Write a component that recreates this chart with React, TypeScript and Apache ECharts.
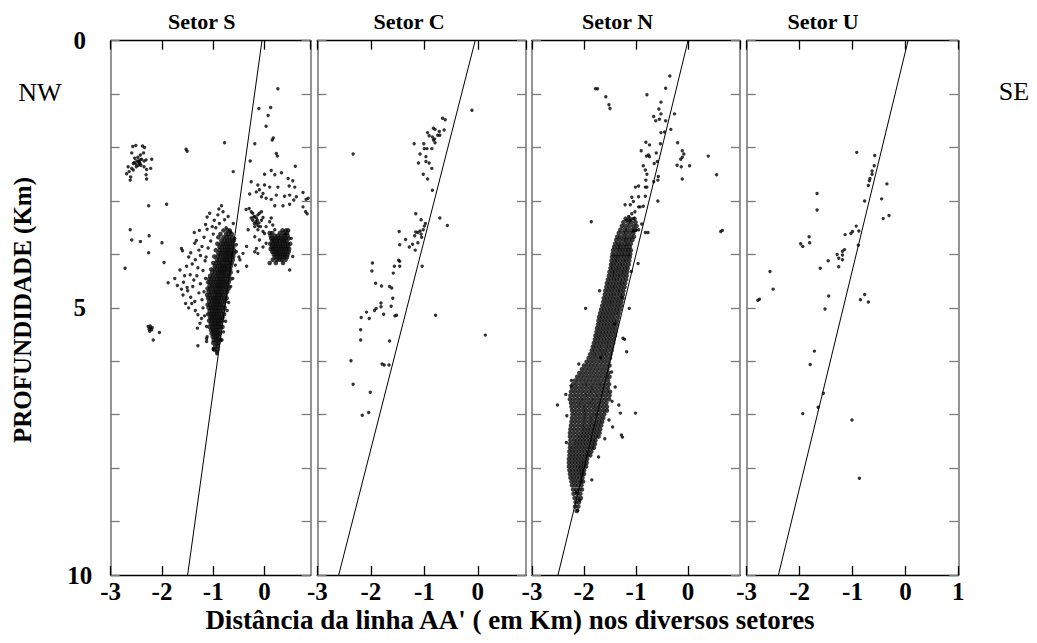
import React, { useEffect, useRef } from "react";
import * as echarts from "echarts";

// ---------- texts ----------
const panelTitles = ["Setor S", "Setor C", "Setor N", "Setor U"];
const xAxisTitle = "Distância da linha AA' ( em Km) nos diversos setores";
const yAxisTitle = "PROFUNDIDADE (Km)";
const leftSide = "NW";
const rightSide = "SE";

// ---------- axes ----------
const xMin = -3;
const xMaxes = [0.9, 0.9, 1, 1];
const depthMin = 0;
const depthMax = 10;
const depthLabels = [0, 5, 10];

// ---------- trend lines [distance, depth] ----------
const lineS = [[-0.05, 0], [-1.5, 10]];
const lineC = [[-0.05, 0], [-2.6, 10]];
const lineN = [[0.0, 0], [-2.5, 10]];
const lineU = [[0.05, 0], [-2.4, 10]];

// ---------- Setor S : scattered events [distance, depth] ----------
const sectorS_sparse = [
  // north-west cluster
  [-2.57, 1.98], [-2.51, 1.96], [-2.38, 1.97], [-2.34, 2.0], [-2.59, 2.1], [-2.36, 2.1], [-2.42, 2.14],
  [-2.53, 2.2], [-2.49, 2.25], [-2.46, 2.26], [-2.43, 2.23], [-2.4, 2.22], [-2.35, 2.25], [-2.31, 2.23],
  [-2.2, 2.22], [-2.54, 2.28], [-2.51, 2.31], [-2.46, 2.33], [-2.43, 2.3], [-2.66, 2.36], [-2.59, 2.39],
  [-2.56, 2.42], [-2.64, 2.45], [-2.69, 2.49], [-2.61, 2.55], [-2.62, 2.61], [-2.35, 2.36], [-2.3, 2.41],
  [-2.22, 2.39], [-2.31, 2.51], [-2.3, 2.59], [-2.56, 2.3], [-2.47, 2.18], [-2.44, 2.28], [-2.41, 2.33], [-2.5, 2.36],
  // isolated
  [-1.53, 2.03], [-1.51, 2.07], [-0.78, 1.91], [-0.61, 2.45], [-2.26, 3.09], [-1.91, 3.06], [-2.62, 3.54],
  [-2.59, 3.73], [-2.42, 3.76], [-2.25, 3.65], [-2.26, 3.97], [-2.0, 3.78], [-2.72, 4.26], [-1.96, 4.15], [-1.88, 4.53],
  // south-west small cluster
  [-2.27, 5.35], [-2.23, 5.34], [-2.19, 5.37], [-2.25, 5.4], [-2.2, 5.41], [-2.24, 5.44], [-2.22, 5.38], [-2.17, 5.6], [-2.05, 5.46],
  // shallow eastern events
  [0.26, 0.9], [-0.11, 1.27], [0.12, 1.25], [0.07, 1.4], [0.03, 1.6], [0.17, 1.82], [0.15, 1.86], [-0.19, 1.93],
  [0.23, 2.11], [0.25, 2.16], [-0.28, 2.25], [0.6, 2.35],
  // halo of the main cluster
  [-1.62, 3.89], [-1.6, 3.93], [-1.44, 3.97], [-1.36, 3.79], [-1.33, 3.74], [-1.37, 3.59], [-1.15, 3.44], [-1.12, 3.53],
  [-1.07, 3.23], [-0.91, 3.26], [-0.84, 3.09], [-0.81, 3.2], [-0.71, 3.29], [-0.61, 3.42], [-1.75, 4.45], [-1.65, 4.29],
  [-1.59, 4.76], [-1.51, 4.62], [-1.54, 4.92], [-1.42, 4.92], [-1.36, 4.88], [-1.3, 5.13], [-1.31, 5.38], [-1.26, 5.29],
  [-1.23, 5.2], [-1.13, 5.35], [-1.12, 5.54], [-1.13, 5.63], [-1.0, 5.76], [-0.94, 5.82], [-0.48, 4.1], [-0.35, 4.22],
  [-0.35, 3.85], [-0.42, 3.98], [-0.52, 4.32], [-0.55, 3.95], [-1.48, 4.05], [-1.41, 4.18], [-1.35, 4.1], [-1.28, 3.92],
  [-1.22, 3.85], [-1.18, 3.68], [-1.25, 4.02], [-1.3, 4.25], [-1.45, 4.38], [-1.38, 4.48], [-1.32, 4.4], [-1.25, 4.55],
  [-1.2, 4.3], [-1.16, 4.12], [-1.1, 3.88], [-1.05, 3.75], [-1.0, 3.62], [-0.95, 3.5], [-0.88, 3.42], [-0.98, 3.36],
  [-1.02, 3.48], [-1.5, 4.68], [-1.44, 4.8], [-1.4, 4.6], [-1.28, 4.72], [-1.22, 4.85], [-1.18, 4.7], [-1.56, 4.4],
  [-1.7, 4.58], [-1.62, 4.65], [-1.48, 5.0], [-1.35, 5.05], [-1.2, 5.0], [-1.17, 5.15], [-1.15, 4.45], [-1.14, 4.05],
  [-0.78, 3.35], [-0.75, 3.5], [-0.66, 3.58], [-0.58, 3.7], [-0.55, 3.82], [-0.5, 4.05], [-0.57, 4.2], [-0.62, 4.45],
  [-0.66, 4.6], [-0.7, 4.9], [-0.73, 5.05], [-0.76, 5.25], [-0.8, 5.45], [-0.83, 5.6], [-1.3, 5.71], [-1.13, 5.58],
  [-1.0, 5.78], [-0.93, 5.86], [-0.89, 3.15], [-1.12, 3.3], [-1.27, 3.55], [-1.52, 4.22], [-1.58, 4.52],
  // eastern group
  [0.0, 2.5], [0.13, 2.43], [0.2, 2.51], [0.33, 2.47], [0.46, 2.58], [0.55, 2.62], [-0.26, 2.64], [-0.13, 2.7],
  [0.0, 2.7], [0.1, 2.74], [0.26, 2.74], [0.48, 2.72], [0.59, 2.74], [0.75, 2.84], [0.81, 2.97], [0.85, 2.95],
  [0.75, 3.11], [0.8, 3.2], [0.83, 3.24], [0.62, 2.92], [0.49, 2.89], [0.39, 2.91], [0.23, 2.89], [0.13, 2.97],
  [0.03, 2.95], [-0.06, 2.92], [-0.16, 2.83], [-0.29, 2.87], [-0.1, 2.79], [-0.03, 2.86], [0.2, 3.09], [0.36, 3.09],
  [0.49, 3.06], [0.57, 2.98], [-0.36, 3.16], [-0.3, 3.14], [-0.26, 3.2], [-0.23, 3.23], [-0.19, 3.29], [-0.16, 3.32],
  [-0.13, 3.26], [-0.1, 3.23], [-0.06, 3.2], [-0.17, 3.39], [-0.15, 3.43], [-0.11, 3.41], [-0.23, 3.36], [-0.26, 3.32],
  [-0.06, 3.36], [-0.03, 3.31], [-0.08, 3.48], [-0.19, 3.48], [-0.13, 3.54], [-0.03, 3.57], [0.0, 3.61], [0.03, 3.48],
  [0.1, 3.39], [0.13, 3.32], [0.16, 3.45], [0.2, 3.54], [-0.32, 3.54], [-0.19, 3.67], [-0.1, 3.73], [-0.16, 3.89],
  [-0.19, 3.95], [-0.13, 3.98], [-0.03, 3.86], [0.03, 3.79], [0.49, 4.29], [0.55, 4.04], [0.52, 3.7], [0.41, 3.62],
  [-0.21, 3.3], [-0.14, 3.36], [-0.2, 3.42], [-0.12, 3.47],
];

// Setor S : dense main cluster, rows of [depth, distances...]
const sectorS_coreRows = [
  [3.55, -0.8, -0.72, -0.68],
  [3.62, -0.86, -0.75, -0.7, -0.64],
  [3.68, -0.9, -0.8, -0.74, -0.69, -0.63],
  [3.74, -0.84, -0.78, -0.73, -0.68, -0.64, -0.6],
  [3.8, -0.92, -0.85, -0.8, -0.76, -0.71, -0.67, -0.62],
  [3.86, -0.88, -0.83, -0.78, -0.74, -0.7, -0.66, -0.61],
  [3.92, -0.95, -0.87, -0.82, -0.77, -0.73, -0.69, -0.65, -0.6],
  [3.98, -0.9, -0.85, -0.8, -0.76, -0.72, -0.68, -0.64, -0.6],
  [4.04, -0.98, -0.91, -0.86, -0.81, -0.77, -0.73, -0.69, -0.65, -0.61],
  [4.1, -0.93, -0.88, -0.83, -0.79, -0.75, -0.71, -0.67, -0.62],
  [4.16, -1.0, -0.94, -0.89, -0.85, -0.8, -0.76, -0.72, -0.68, -0.64],
  [4.22, -0.97, -0.92, -0.87, -0.83, -0.79, -0.75, -0.71, -0.66],
  [4.28, -1.04, -0.98, -0.93, -0.88, -0.84, -0.8, -0.76, -0.72, -0.67],
  [4.34, -1.02, -0.96, -0.91, -0.87, -0.83, -0.79, -0.75, -0.7, -0.66],
  [4.4, -1.06, -1.0, -0.95, -0.9, -0.86, -0.82, -0.78, -0.74, -0.69],
  [4.46, -1.08, -1.03, -0.98, -0.93, -0.89, -0.85, -0.81, -0.77, -0.72, -0.67],
  [4.52, -1.1, -1.05, -1.0, -0.95, -0.91, -0.87, -0.83, -0.79, -0.75, -0.7],
  [4.58, -1.07, -1.02, -0.97, -0.93, -0.89, -0.85, -0.81, -0.77, -0.72],
  [4.64, -1.11, -1.06, -1.01, -0.96, -0.92, -0.88, -0.84, -0.8, -0.75, -0.7],
  [4.7, -1.09, -1.04, -0.99, -0.95, -0.91, -0.87, -0.83, -0.78, -0.73],
  [4.76, -1.12, -1.07, -1.02, -0.97, -0.93, -0.89, -0.85, -0.81, -0.76],
  [4.82, -1.1, -1.05, -1.0, -0.96, -0.92, -0.88, -0.84, -0.79, -0.74],
  [4.88, -1.08, -1.03, -0.99, -0.95, -0.91, -0.87, -0.82, -0.77],
  [4.94, -1.11, -1.06, -1.01, -0.97, -0.93, -0.89, -0.85, -0.8],
  [5.0, -1.09, -1.04, -1.0, -0.96, -0.92, -0.88, -0.83, -0.78],
  [5.06, -1.07, -1.02, -0.98, -0.94, -0.9, -0.86, -0.81],
  [5.12, -1.1, -1.05, -1.01, -0.97, -0.93, -0.89, -0.84, -0.79],
  [5.18, -1.06, -1.02, -0.98, -0.94, -0.9, -0.86, -0.82],
  [5.24, -1.08, -1.03, -0.99, -0.95, -0.91, -0.87, -0.83],
  [5.3, -1.05, -1.01, -0.97, -0.93, -0.89, -0.85],
  [5.36, -1.07, -1.02, -0.98, -0.94, -0.9, -0.86, -0.82],
  [5.42, -1.04, -1.0, -0.96, -0.92, -0.88],
  [5.48, -1.03, -0.99, -0.95, -0.91, -0.87],
  [5.54, -1.01, -0.97, -0.93, -0.89],
  [5.6, -0.99, -0.95, -0.91, -0.86],
  [5.66, -1.0, -0.94, -0.9],
  [5.72, -0.96, -0.91],
  [5.78, -0.98, -0.92],
];

// Setor S : dense eastern cluster rows
const sectorS_eastRows = [
  [3.55, 0.35, 0.42, 0.46],
  [3.6, 0.1, 0.15, 0.3, 0.38, 0.44],
  [3.65, 0.12, 0.2, 0.26, 0.33, 0.39, 0.45],
  [3.7, 0.13, 0.17, 0.22, 0.27, 0.32, 0.37, 0.41, 0.47],
  [3.75, 0.15, 0.19, 0.24, 0.29, 0.34, 0.38, 0.43],
  [3.8, 0.11, 0.16, 0.21, 0.25, 0.3, 0.35, 0.4, 0.45, 0.5],
  [3.85, 0.14, 0.18, 0.23, 0.27, 0.32, 0.36, 0.41, 0.46],
  [3.9, 0.12, 0.17, 0.21, 0.26, 0.3, 0.34, 0.39, 0.43, 0.48],
  [3.95, 0.15, 0.2, 0.24, 0.28, 0.33, 0.37, 0.42, 0.47],
  [4.0, 0.18, 0.23, 0.27, 0.31, 0.36, 0.4, 0.45],
  [4.05, 0.2, 0.25, 0.3, 0.35, 0.39, 0.44],
  [4.1, 0.16, 0.24, 0.29, 0.34, 0.41],
  [4.16, 0.1, 0.22, 0.36],
];

// ---------- Setor C ----------
const sectorC_points = [
  [-0.11, 1.3], [-0.66, 1.45], [-0.61, 1.48], [-0.83, 1.64], [-0.8, 1.66], [-0.94, 1.72], [-0.72, 1.7], [-0.63, 1.67],
  [-0.91, 1.78], [-0.85, 1.8], [-0.81, 1.84], [-0.83, 1.86], [-0.75, 1.77], [-0.71, 1.77], [-0.8, 1.91],
  [-1.19, 1.93], [-1.01, 1.93], [-1.0, 2.02], [-0.95, 2.02], [-0.86, 2.02], [-2.33, 2.12], [-1.08, 2.12],
  [-0.97, 2.17], [-1.11, 2.29], [-0.97, 2.26], [-0.91, 2.29], [-0.86, 2.39], [-1.02, 2.5], [-0.94, 2.59], [-0.85, 2.8],
  [-1.16, 3.24], [-1.06, 3.35], [-0.71, 3.32], [-0.57, 3.46], [-0.98, 3.42], [-1.0, 3.47], [-1.02, 3.54], [-1.08, 3.56],
  [-1.16, 3.58], [-1.12, 3.59], [-1.18, 3.65], [-1.06, 3.62], [-1.05, 3.68], [-1.47, 3.57], [-1.35, 3.72], [-1.46, 3.82],
  [-1.28, 3.86], [-1.22, 3.81], [-1.12, 3.78], [-1.17, 3.92], [-1.97, 4.16], [-1.98, 4.31], [-1.48, 4.11], [-1.46, 4.13],
  [-1.56, 4.22], [-1.46, 4.22], [-1.58, 4.35], [-1.04, 4.22], [-1.91, 4.54], [-1.8, 4.59], [-1.65, 4.6], [-1.61, 4.63],
  [-1.59, 4.82], [-1.81, 4.91], [-1.81, 4.98], [-1.9, 5.01], [-1.93, 5.05], [-2.08, 5.08], [-2.18, 5.18], [-2.03, 5.2],
  [-1.76, 5.12], [-1.62, 4.97], [-1.55, 5.15], [-1.52, 5.14], [-0.79, 5.14], [0.14, 5.51], [-2.19, 5.41], [-2.19, 5.6],
  [-1.65, 5.62], [-2.37, 5.99], [-1.79, 6.05], [-1.75, 6.07], [-1.66, 6.07], [-2.33, 6.43], [-2.01, 6.58], [-2.04, 6.96],
  [-2.16, 7.01],
];

// ---------- Setor N ----------
const sectorN_sparse = [
  [-1.78, 0.9], [-1.74, 0.9], [-1.58, 1.05], [-1.52, 1.2], [-1.5, 1.27], [-0.35, 0.66], [-0.43, 0.89], [-0.79, 1.01],
  [-0.52, 1.15], [-0.56, 1.28], [-0.52, 1.37], [-0.66, 1.42], [-0.62, 1.5], [-0.55, 1.47], [-0.26, 1.37], [-0.43, 1.5],
  [-0.33, 1.66], [-0.52, 1.72], [-0.45, 1.71], [-0.81, 1.9], [-0.74, 1.95], [-0.53, 1.93], [-0.2, 1.91], [-0.9, 2.06],
  [-0.61, 2.1], [-0.8, 2.16], [-0.76, 2.14], [-0.74, 2.17], [-0.11, 2.06], [-0.08, 2.12], [-0.11, 2.18], [-0.14, 2.22],
  [0.39, 2.16], [-0.59, 2.26], [-0.65, 2.3], [-0.21, 2.33], [-0.13, 2.36], [0.03, 2.34], [0.55, 2.51], [-0.11, 2.59],
  [-0.86, 2.34], [-0.82, 2.42], [-0.79, 2.5], [-0.81, 2.61], [-0.57, 2.54], [-0.58, 2.61], [-0.66, 2.64], [-0.95, 2.72],
  [-1.01, 2.74], [-0.82, 2.74], [-0.79, 2.74], [-0.82, 2.91], [-0.95, 2.92], [-1.08, 2.93], [-0.58, 3.0], [-1.05, 3.01],
  [-1.11, 3.07], [-1.21, 3.07], [-0.95, 3.11], [-0.92, 3.11], [-0.86, 3.1], [-1.86, 3.39], [-1.02, 3.2], [-1.08, 3.24],
  [-1.14, 3.29], [-1.18, 3.36], [-1.11, 3.36], [-1.05, 3.33], [-0.89, 3.43], [-0.82, 3.59], [-0.77, 3.59], [-0.95, 3.54],
  [-1.0, 3.55], [-1.05, 3.56], [0.66, 3.55], [0.63, 3.57], [-0.96, 4.17], [-1.09, 4.32], [-1.97, 5.01], [-1.13, 5.01],
  [-1.25, 5.57], [-1.22, 5.59], [-1.18, 5.82], [-2.1, 6.05], [-2.51, 6.82], [-1.4, 6.48], [-1.33, 6.82], [-1.3, 6.97],
  [-1.01, 6.97], [-1.28, 7.38], [-1.26, 7.42], [-1.45, 7.23], [-1.85, 8.22], [-1.72, 7.79], [-2.24, 6.36], [-2.25, 6.46],
  [-2.35, 6.62], [-2.33, 7.02], [-1.47, 6.2], [-1.46, 6.75], [-1.52, 7.1], [-1.6, 7.45], [-2.34, 7.52], [-2.08, 8.6],
  [-2.12, 8.79], [-2.15, 8.45], [-1.68, 5.93], [-1.41, 5.3], [-1.27, 4.8], [-1.7, 4.68],
];

// Setor N : dense band rows of [depth, distances...]
const sectorN_bandRows = [
  [3.33, -1.2, -1.12, -1.03],
  [3.4, -1.24, -1.15, -1.09, -1.01],
  [3.47, -1.27, -1.2, -1.13, -1.05, -0.99],
  [3.54, -1.3, -1.22, -1.16, -1.08, -1.02],
  [3.6, -1.33, -1.25, -1.19, -1.12, -1.05],
  [3.67, -1.36, -1.3, -1.23, -1.17, -1.1, -1.04],
  [3.73, -1.38, -1.31, -1.24, -1.19, -1.13, -1.07],
  [3.8, -1.4, -1.34, -1.28, -1.21, -1.16, -1.1],
  [3.86, -1.42, -1.35, -1.3, -1.24, -1.18, -1.12],
  [3.92, -1.44, -1.37, -1.31, -1.26, -1.2, -1.15, -1.1],
  [3.99, -1.45, -1.39, -1.33, -1.27, -1.22, -1.16, -1.11],
  [4.05, -1.46, -1.4, -1.35, -1.29, -1.23, -1.17, -1.12],
  [4.12, -1.47, -1.41, -1.36, -1.3, -1.24, -1.19, -1.13],
  [4.19, -1.48, -1.43, -1.37, -1.31, -1.26, -1.2, -1.14],
  [4.26, -1.49, -1.44, -1.38, -1.33, -1.27, -1.21, -1.16],
  [4.33, -1.51, -1.45, -1.4, -1.34, -1.28, -1.23, -1.17],
  [4.4, -1.52, -1.46, -1.41, -1.35, -1.3, -1.24, -1.18],
  [4.47, -1.54, -1.48, -1.42, -1.37, -1.31, -1.25, -1.19],
  [4.54, -1.56, -1.5, -1.44, -1.38, -1.32, -1.27, -1.21],
  [4.61, -1.57, -1.51, -1.45, -1.4, -1.34, -1.28, -1.22],
  [4.68, -1.59, -1.53, -1.47, -1.41, -1.35, -1.3, -1.24],
  [4.75, -1.6, -1.54, -1.48, -1.43, -1.37, -1.31, -1.25],
  [4.82, -1.62, -1.56, -1.5, -1.44, -1.38, -1.32, -1.26],
  [4.89, -1.63, -1.57, -1.51, -1.46, -1.4, -1.34, -1.28],
  [4.96, -1.65, -1.59, -1.53, -1.47, -1.41, -1.35, -1.29],
  [5.03, -1.67, -1.61, -1.55, -1.49, -1.43, -1.37, -1.31],
  [5.1, -1.69, -1.63, -1.57, -1.51, -1.45, -1.39, -1.33],
  [5.17, -1.71, -1.65, -1.59, -1.53, -1.47, -1.41, -1.34],
  [5.24, -1.72, -1.66, -1.6, -1.54, -1.48, -1.42, -1.36],
  [5.31, -1.73, -1.67, -1.61, -1.55, -1.49, -1.43, -1.37],
  [5.38, -1.75, -1.69, -1.63, -1.57, -1.51, -1.45, -1.39],
  [5.45, -1.76, -1.7, -1.64, -1.58, -1.52, -1.46, -1.4],
  [5.52, -1.78, -1.72, -1.66, -1.6, -1.54, -1.48, -1.41],
  [5.59, -1.79, -1.73, -1.67, -1.61, -1.55, -1.49, -1.43],
  [5.66, -1.81, -1.75, -1.69, -1.63, -1.57, -1.51, -1.44],
  [5.73, -1.83, -1.77, -1.71, -1.65, -1.58, -1.52, -1.46],
  [5.8, -1.85, -1.79, -1.72, -1.66, -1.6, -1.54, -1.47],
  [5.87, -1.88, -1.81, -1.75, -1.68, -1.62, -1.56, -1.49],
  [5.94, -1.91, -1.84, -1.77, -1.7, -1.64, -1.57, -1.5],
  [6.01, -1.95, -1.88, -1.81, -1.74, -1.67, -1.6, -1.53],
  [6.08, -2.0, -1.93, -1.86, -1.79, -1.72, -1.65, -1.58, -1.51],
  [6.15, -2.04, -1.97, -1.9, -1.83, -1.76, -1.69, -1.62, -1.55],
  [6.22, -2.09, -2.02, -1.95, -1.88, -1.81, -1.74, -1.67, -1.6, -1.53],
  [6.29, -2.13, -2.06, -1.99, -1.92, -1.85, -1.78, -1.71, -1.64, -1.57, -1.51],
  [6.36, -2.17, -2.1, -2.03, -1.96, -1.89, -1.82, -1.75, -1.68, -1.61, -1.54],
  [6.43, -2.21, -2.14, -2.06, -1.99, -1.93, -1.86, -1.79, -1.72, -1.66, -1.59, -1.52],
  [6.5, -2.23, -2.16, -2.09, -2.02, -1.95, -1.88, -1.82, -1.75, -1.68, -1.61, -1.54],
  [6.57, -2.25, -2.18, -2.11, -2.04, -1.97, -1.9, -1.84, -1.77, -1.7, -1.63, -1.56, -1.5],
  [6.64, -2.26, -2.19, -2.12, -2.05, -1.98, -1.92, -1.85, -1.78, -1.72, -1.65, -1.58, -1.51],
  [6.71, -2.27, -2.2, -2.13, -2.06, -2.0, -1.93, -1.86, -1.8, -1.73, -1.66, -1.59, -1.52],
  [6.78, -2.25, -2.18, -2.11, -2.05, -1.98, -1.91, -1.85, -1.78, -1.71, -1.64, -1.57],
  [6.85, -2.24, -2.17, -2.1, -2.03, -1.97, -1.9, -1.83, -1.77, -1.7, -1.63, -1.56],
  [6.92, -2.23, -2.16, -2.09, -2.02, -1.96, -1.89, -1.82, -1.75, -1.69, -1.62, -1.56],
  [6.99, -2.22, -2.15, -2.08, -2.01, -1.95, -1.88, -1.81, -1.75, -1.68, -1.61],
  [7.06, -2.23, -2.16, -2.09, -2.02, -1.96, -1.89, -1.83, -1.76, -1.69, -1.63],
  [7.13, -2.24, -2.17, -2.1, -2.03, -1.97, -1.9, -1.84, -1.77, -1.71, -1.65],
  [7.2, -2.25, -2.18, -2.11, -2.04, -1.98, -1.91, -1.85, -1.79, -1.73, -1.67],
  [7.27, -2.26, -2.19, -2.12, -2.05, -1.99, -1.93, -1.87, -1.81, -1.75, -1.69],
  [7.34, -2.27, -2.2, -2.13, -2.06, -2.0, -1.94, -1.88, -1.82, -1.76, -1.7],
  [7.41, -2.27, -2.2, -2.13, -2.07, -2.01, -1.95, -1.89, -1.83, -1.77, -1.72],
  [7.48, -2.26, -2.19, -2.13, -2.07, -2.01, -1.95, -1.89, -1.83, -1.78],
  [7.55, -2.27, -2.2, -2.14, -2.08, -2.02, -1.96, -1.9, -1.84, -1.79],
  [7.62, -2.27, -2.21, -2.15, -2.09, -2.03, -1.97, -1.91, -1.85, -1.81],
  [7.69, -2.28, -2.22, -2.16, -2.1, -2.04, -1.98, -1.92, -1.86],
  [7.76, -2.28, -2.22, -2.16, -2.1, -2.04, -1.98, -1.93, -1.88],
  [7.83, -2.29, -2.23, -2.17, -2.11, -2.05, -1.99, -1.94],
  [7.9, -2.29, -2.23, -2.17, -2.11, -2.05, -2.0, -1.95],
  [7.97, -2.29, -2.23, -2.17, -2.11, -2.06, -2.01, -1.96],
  [8.04, -2.28, -2.22, -2.16, -2.1, -2.05, -2.0],
  [8.11, -2.27, -2.21, -2.15, -2.09, -2.04, -2.0],
  [8.18, -2.26, -2.2, -2.14, -2.08, -2.03],
  [8.25, -2.24, -2.18, -2.12, -2.06, -2.02],
  [8.32, -2.23, -2.17, -2.11, -2.05],
  [8.4, -2.21, -2.15, -2.09, -2.04],
  [8.48, -2.2, -2.13, -2.07],
  [8.56, -2.18, -2.12, -2.06],
  [8.64, -2.16, -2.1],
  [8.72, -2.17, -2.11],
  [8.8, -2.14],
];

// ---------- Setor U ----------
const sectorU_points = [
  [-0.92, 2.09], [-0.58, 2.15], [-0.59, 2.34], [-0.63, 2.44], [-0.63, 2.5], [-0.67, 2.58], [-0.68, 2.62], [-0.7, 2.71],
  [-0.35, 2.68], [-1.67, 2.86], [-0.77, 3.0], [-0.45, 2.96], [-1.67, 3.17], [-0.42, 3.33], [-0.31, 3.27], [-0.93, 3.47],
  [-0.88, 3.56], [-1.0, 3.57], [-1.03, 3.61], [-1.14, 3.63], [-1.82, 3.67], [-1.81, 3.78], [-1.98, 3.8], [-1.94, 3.85],
  [-0.89, 3.83], [-1.15, 3.91], [-1.19, 3.94], [-1.29, 4.0], [-1.19, 4.01], [-1.26, 4.07], [-1.19, 4.1], [-1.46, 4.12],
  [-1.26, 4.23], [-1.61, 4.26], [-2.56, 4.32], [-2.5, 4.65], [-2.79, 4.86], [-2.76, 4.84], [-1.45, 4.78], [-1.52, 5.02],
  [-0.77, 4.75], [-0.85, 4.85], [-0.7, 4.89], [-1.72, 5.81], [-1.8, 6.06], [-1.55, 6.6], [-1.65, 6.86], [-1.94, 6.98],
  [-1.01, 7.1], [-0.87, 8.19],
];

const expandRows = (rows: number[][]) =>
  rows.flatMap(([d, ...xs]) => xs.map((x) => [x, d]));

const sparseData = [sectorS_sparse, sectorC_points, sectorN_sparse, sectorU_points];
const denseData = [
  [...expandRows(sectorS_coreRows), ...expandRows(sectorS_eastRows)],
  [],
  expandRows(sectorN_bandRows),
  [],
];
const panelLines = [lineS, lineC, lineN, lineU];

// ---------- layout (pixels) ----------
const gridBoxes = [
  { left: 110.7, width: 200 },
  { left: 317.3, width: 208.7 },
  { left: 532, width: 208 },
  { left: 746.7, width: 211.6 },
];
const gridTop = 40.7;
const gridHeight = 534.3;
const titleCenters = [201.7, 409, 617.5, 823];

const FONT = '"Liberation Serif", "DejaVu Serif", serif';
const H_AXIS = "#000";
const V_AXIS = "#7a7a7a";

export default function App() {
  const ref = useRef<HTMLDivElement>(null);

  useEffect(() => {
    if (!ref.current) return;
    const chart = echarts.init(ref.current, null, { renderer: "svg" });

    const grid = gridBoxes.map((g) => ({
      left: g.left,
      width: g.width,
      top: gridTop,
      height: gridHeight,
      containLabel: false,
    }));

    const xAxis: any[] = [];
    const yAxis: any[] = [];
    gridBoxes.forEach((_, i) => {
      const common = {
        type: "value",
        gridIndex: i,
        min: xMin,
        max: xMaxes[i],
        interval: 1,
        splitLine: { show: false },
        axisLine: { show: true, onZero: false, lineStyle: { color: H_AXIS, width: 1.3 } },
        axisTick: { show: true, inside: true, length: 9, lineStyle: { color: H_AXIS, width: 1.3 } },
      };
      xAxis.push({
        ...common,
        position: "bottom",
        axisLabel: {
          show: true,
          margin: 4,
          color: "#000",
          fontFamily: FONT,
          fontWeight: "bold",
          fontSize: 25,
          showMinLabel: true,
          showMaxLabel: i === 3,
        },
      });
      xAxis.push({ ...common, position: "top", axisLabel: { show: false } });

      const ycommon = {
        type: "value",
        gridIndex: i,
        min: depthMin,
        max: depthMax,
        interval: 1,
        inverse: true,
        splitLine: { show: false },
        axisLine: { show: true, onZero: false, lineStyle: { color: V_AXIS, width: 1.6 } },
        axisTick: { show: true, inside: true, length: 9, lineStyle: { color: V_AXIS, width: 1.3 } },
      };
      yAxis.push({
        ...ycommon,
        position: "left",
        axisLabel: {
          show: i === 0,
          margin: 31,
          align: "center",
          color: "#000",
          fontFamily: FONT,
          fontWeight: "bold",
          fontSize: 25,
          formatter: (v: number) => (depthLabels.includes(v) ? String(v) : ""),
        },
      });
      yAxis.push({ ...ycommon, position: "right", axisLabel: { show: false } });
    });

    const series: any[] = [];
    gridBoxes.forEach((_, i) => {
      series.push({
        type: "scatter",
        xAxisIndex: 2 * i,
        yAxisIndex: 2 * i,
        data: denseData[i],
        symbol: "circle",
        symbolSize: 4.6,
        itemStyle: { color: "#0d0d0d" },
        silent: true,
        z: 2,
      });
      series.push({
        type: "scatter",
        xAxisIndex: 2 * i,
        yAxisIndex: 2 * i,
        data: sparseData[i],
        symbol: "circle",
        symbolSize: 3.4,
        itemStyle: { color: "#000" },
        silent: true,
        z: 2,
      });
      series.push({
        type: "line",
        xAxisIndex: 2 * i,
        yAxisIndex: 2 * i,
        data: panelLines[i],
        showSymbol: false,
        symbol: "none",
        lineStyle: { color: "#000", width: 1 },
        silent: true,
        z: 3,
      });
    });

    const graphic: any[] = [
      ...panelTitles.map((t, i) => ({
        type: "text",
        x: titleCenters[i],
        y: 21,
        style: {
          text: t,
          fill: "#000",
          fontFamily: FONT,
          fontWeight: "bold",
          fontSize: 22,
          textAlign: "center",
          textVerticalAlign: "middle",
        },
      })),
      {
        type: "text",
        x: 40,
        y: 92,
        style: { text: leftSide, fill: "#000", fontFamily: FONT, fontSize: 26, textAlign: "center", textVerticalAlign: "middle" },
      },
      {
        type: "text",
        x: 1014,
        y: 91,
        style: { text: rightSide, fill: "#000", fontFamily: FONT, fontSize: 26, textAlign: "center", textVerticalAlign: "middle" },
      },
      {
        type: "text",
        x: 510,
        y: 620,
        style: {
          text: xAxisTitle, fill: "#000", fontFamily: FONT, fontWeight: "bold", fontSize: 27,
          textAlign: "center", textVerticalAlign: "middle",
        },
      },
      {
        type: "text",
        x: 22,
        y: 310,
        rotation: Math.PI / 2,
        style: {
          text: yAxisTitle, fill: "#000", fontFamily: FONT, fontWeight: "bold", fontSize: 25,
          textAlign: "center", textVerticalAlign: "middle",
        },
      },
    ];

    chart.setOption({
      animation: false,
      backgroundColor: "#fff",
      grid,
      xAxis,
      yAxis,
      series,
      graphic,
    });

    return () => chart.dispose();
  }, []);

  return (
    <div
      ref={ref}
      style={{ position: "absolute", left: 0, top: 0, width: 1037, height: 643 }}
    />
  );
}
